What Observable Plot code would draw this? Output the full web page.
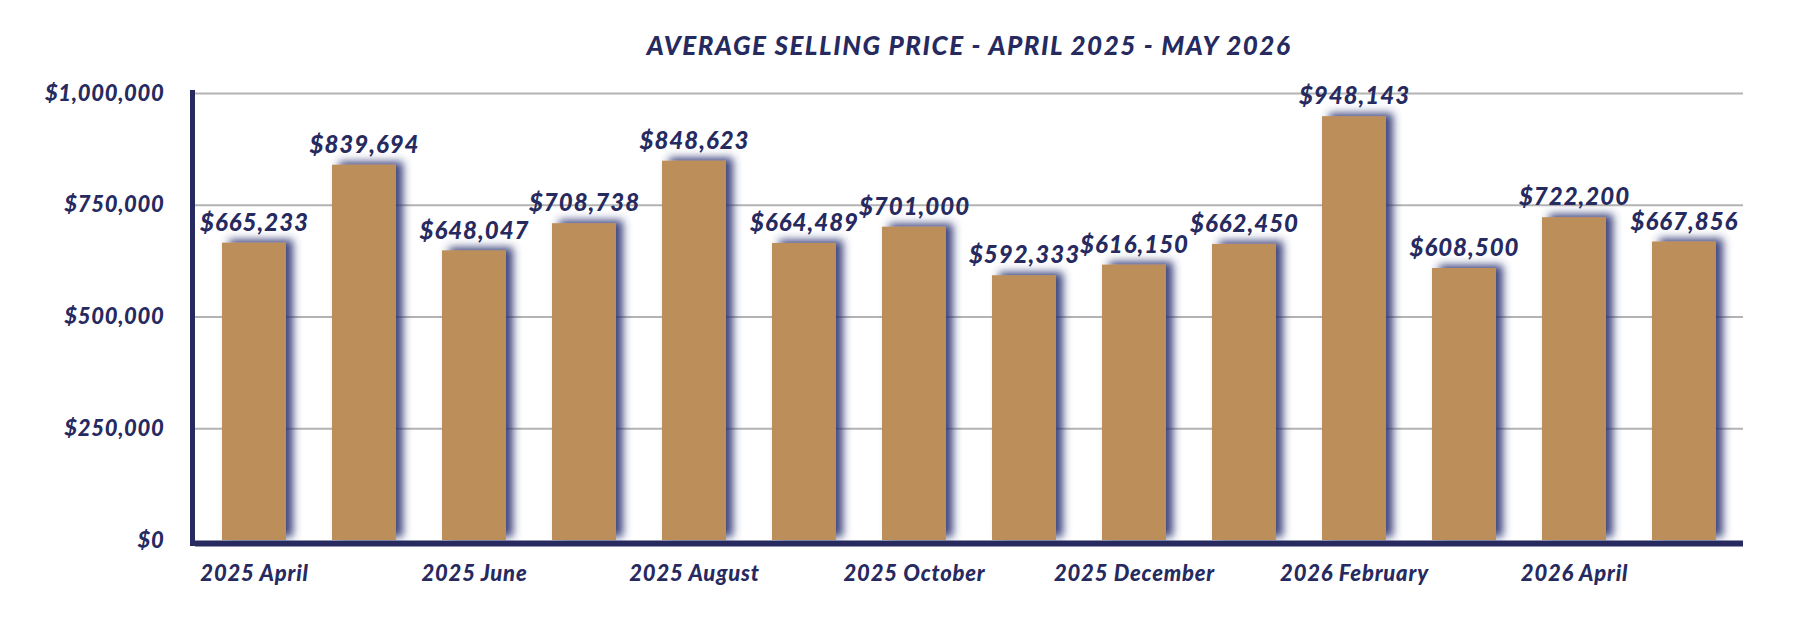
<!DOCTYPE html>
<html>
<head>
<meta charset="utf-8">
<script src="https://cdn.jsdelivr.net/npm/d3@7"></script>
<script src="https://cdn.jsdelivr.net/npm/@observablehq/plot@0.6"></script>
<style>
  html, body { margin: 0; padding: 0; background: #ffffff; }
  #chart { width: 1818px; }
  #title {
    box-sizing: border-box;
    width: 1818px;
    height: 60px;
    padding-top: 30px;
    padding-left: 120px;
    line-height: 30px;
    text-align: center;
    font-family: "Lato", "DejaVu Sans", sans-serif;
    font-style: italic;
    font-weight: 900;
    font-size: 26px;
    letter-spacing: 1.5px;
    color: #262a5f;
    white-space: nowrap;
  }
  svg { display: block; }
  svg g[aria-label="y-axis tick label"] text,
  svg g[aria-label="y-axis"] text { letter-spacing: 0.7px; }
  svg g[aria-label="x-axis tick label"] text,
  svg g[aria-label="x-axis"] text { letter-spacing: 0.8px; }
  svg g[aria-label="text"] text { letter-spacing: 1.0px; }
</style>
</head>
<body>
<div id="chart">
  <div id="title">AVERAGE SELLING PRICE - APRIL 2025 - MAY 2026</div>
</div>
<script>
// Monthly average selling price
const months = [
  "2025 April", "2025 May", "2025 June", "2025 July", "2025 August",
  "2025 September", "2025 October", "2025 November", "2025 December",
  "2026 January", "2026 February", "2026 March", "2026 April", "2026 May"
];
const prices = [
  665233, 839694, 648047, 708738, 848623,
  664489, 701000, 592333, 616150,
  662450, 948143, 608500, 722200, 667856
];
// Month labels shown along the bottom axis
const xTickLabels = [
  "2025 April", "2025 June", "2025 August", "2025 October",
  "2025 December", "2026 February", "2026 April"
];
const yTicks = [0, 250000, 500000, 750000, 1000000];
const gridValues = [250000, 500000, 750000, 1000000];

const navy = "#262a5f";
const gold = "#bc8f5a";

const rows = months.map((month, i) => ({month, price: prices[i]}));
const money = v => "$" + d3.format(",")(v);
const labeled = new Set(xTickLabels);

const chart = Plot.plot({
  width: 1818,
  height: 580,
  marginTop: 33,
  marginBottom: 100,
  marginLeft: 195,
  marginRight: 75,
  style: {
    fontFamily: "Lato, 'DejaVu Sans', sans-serif",
    fontStyle: "italic",
    fontWeight: "900",
    fontSize: "22px",
    color: navy,
    background: "#ffffff",
    overflow: "visible"
  },
  x: {
    domain: months,
    paddingInner: 0.42,
    paddingOuter: 0.21,
    tickSize: 0,
    tickPadding: 25,
    tickFormat: d => labeled.has(d) ? d : "",
    label: null
  },
  y: {
    domain: [0, 1000000],
    ticks: yTicks,
    tickSize: 0,
    tickPadding: 31,
    tickFormat: money,
    label: null
  },
  marks: [
    Plot.ruleY(gridValues, {stroke: "#b3b3b3", strokeWidth: 2}),
    Plot.barY(rows, {x: "month", y: "price", fill: gold}),
    Plot.ruleY([0], {stroke: navy, strokeWidth: 6, dy: 3}),
    Plot.text(rows, {
      x: "month",
      y: "price",
      text: d => money(d.price),
      dy: -20,
      fontSize: 24,
      fill: navy,
      textAnchor: "middle"
    })
  ]
});

document.getElementById("chart").appendChild(chart);

// Soft navy shadow behind the bars
const svg = d3.select(chart.tagName.toLowerCase() === "svg" ? chart : chart.querySelector("svg"));
const defs = svg.insert("defs", ":first-child");
const filter = defs.append("filter")
  .attr("id", "barShadow")
  .attr("x", "-30%").attr("y", "-10%")
  .attr("width", "170%").attr("height", "120%");
filter.append("feDropShadow")
  .attr("dx", 7).attr("dy", -3)
  .attr("stdDeviation", 4)
  .attr("flood-color", "#283070")
  .attr("flood-opacity", 0.9);
svg.selectAll('g[aria-label="bar"] rect').attr("filter", "url(#barShadow)");

// Left axis line along the value scale
const yRange = chart.scale("y").range;
const xRange = chart.scale("x").range;
svg.append("line")
  .attr("x1", xRange[0] - 2.5).attr("x2", xRange[0] - 2.5)
  .attr("y1", Math.min(...yRange) - 3)
  .attr("y2", Math.max(...yRange) + 6)
  .attr("stroke", navy)
  .attr("stroke-width", 5);
</script>
</body>
</html>
